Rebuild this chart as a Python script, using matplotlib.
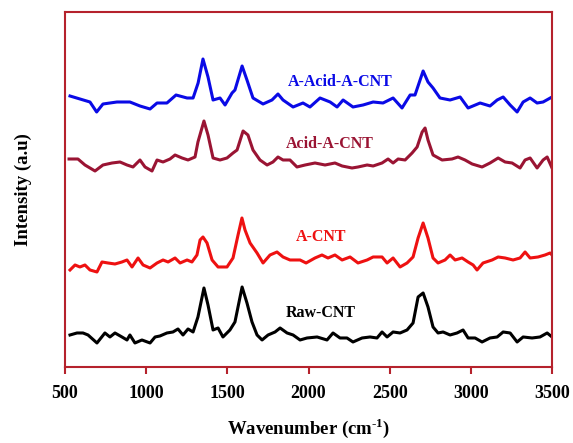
import matplotlib.pyplot as plt
import numpy as np

plt.rcParams['font.family'] = ['Liberation Serif', 'DejaVu Serif']
plt.rcParams['font.weight'] = 'bold'
plt.rcParams['mathtext.fontset'] = 'custom'
plt.rcParams['mathtext.rm'] = 'Liberation Serif:bold'
plt.rcParams['mathtext.bf'] = 'Liberation Serif:bold'

# Raman spectra (offset curves, arbitrary units)
w_blue = [531, 654, 695, 734, 820, 900, 962, 1024, 1067, 1128, 1184, 1252, 1289, 1320, 1350, 1381,
          1412, 1455, 1486, 1529, 1547, 1591, 1621, 1658, 1720, 1775, 1812, 1843, 1905, 1966, 2009,
          2071, 2133, 2176, 2213, 2274, 2336, 2398, 2459, 2521, 2576, 2626, 2656, 2706, 2736, 2767,
          2810, 2872, 2934, 2983, 3057, 3118, 3162, 3199, 3242, 3285, 3322, 3365, 3408, 3445, 3500]
i_blue = [271, 265, 255, 263, 265, 265, 261, 258, 264, 264, 272, 269, 269, 284, 308, 290,
          267, 269, 262, 274, 277, 301, 287, 269, 263, 267, 273, 267, 260, 264, 260,
          269, 265, 260, 267, 260, 262, 265, 264, 269, 259, 272, 272, 296, 285, 279,
          269, 267, 270, 259, 264, 261, 267, 270, 262, 255, 265, 269, 264, 265, 270]

w_acid = [525, 580, 623, 685, 734, 790, 839, 882, 919, 962, 993, 1036, 1067, 1104, 1147, 1178,
          1221, 1258, 1301, 1319, 1356, 1381, 1412, 1455, 1498, 1535, 1560, 1597, 1627, 1658,
          1701, 1745, 1781, 1812, 1843, 1886, 1929, 1979, 2040, 2102, 2163, 2207, 2268, 2305,
          2361, 2398, 2453, 2490, 2521, 2552, 2595, 2638, 2669, 2700, 2718, 2736, 2767, 2823,
          2884, 2921, 2964, 3008, 3069, 3118, 3168, 3211, 3254, 3303, 3334, 3365, 3408, 3445,
          3470, 3500]
i_acid = [208, 208, 202, 196, 202, 204, 205, 202, 200, 207, 200, 196, 207, 205, 208, 212,
          209, 207, 210, 225, 246, 232, 209, 207, 209, 214, 217, 236, 232, 217,
          207, 202, 205, 210, 207, 207, 200, 202, 204, 202, 204, 201, 199, 200,
          202, 201, 204, 208, 204, 208, 207, 214, 220, 235, 239, 227, 212, 207,
          208, 210, 207, 203, 200, 204, 209, 205, 204, 199, 207, 209, 199, 207,
          210, 199]

w_a = [531, 562, 592, 623, 654, 697, 728, 765, 808, 851, 882, 913, 950, 981, 1024, 1067, 1104,
       1135, 1178, 1209, 1252, 1282, 1313, 1332, 1350, 1375, 1406, 1443, 1498, 1535, 1566, 1590,
       1609, 1640, 1683, 1720, 1763, 1806, 1843, 1886, 1948, 1985, 2040, 2083, 2120, 2163, 2207,
       2256, 2305, 2361, 2398, 2453, 2484, 2521, 2564, 2607, 2644, 2675, 2706, 2736, 2767, 2798,
       2841, 2872, 2903, 2946, 2983, 3014, 3038, 3075, 3131, 3168, 3211, 3260, 3303, 3334, 3365,
       3414, 3457, 3488, 3500]
i_a = [97, 102, 100, 102, 97, 95, 105, 104, 103, 105, 107, 100, 109, 102, 99, 104, 107,
       105, 109, 104, 107, 105, 112, 127, 130, 124, 107, 100, 100, 109, 132, 149,
       137, 124, 114, 104, 112, 115, 110, 107, 107, 104, 109, 112, 109, 112, 107,
       110, 104, 107, 110, 110, 104, 109, 100, 104, 110, 129, 144, 129, 109, 104,
       107, 112, 107, 109, 105, 102, 97, 104, 107, 110, 109, 107, 109, 115, 109,
       110, 112, 114, 112]

w_raw = [531, 574, 611, 642, 697, 746, 777, 808, 851, 882, 900, 931, 974, 1024, 1055, 1085,
         1128, 1165, 1196, 1227, 1258, 1289, 1319, 1356, 1381, 1412, 1443, 1473, 1516, 1547,
         1591, 1621, 1652, 1683, 1714, 1751, 1794, 1825, 1868, 1905, 1948, 1991, 2053, 2114,
         2151, 2194, 2237, 2274, 2330, 2379, 2422, 2453, 2484, 2521, 2564, 2607, 2644, 2675,
         2706, 2736, 2767, 2798, 2829, 2872, 2915, 2952, 2983, 3026, 3069, 3118, 3162, 3199,
         3242, 3285, 3322, 3377, 3426, 3470, 3500]
i_raw = [32, 34, 34, 32, 24, 34, 30, 34, 30, 27, 32, 24, 27, 24, 30, 31,
         34, 35, 38, 32, 38, 35, 50, 79, 62, 37, 39, 30, 37, 45,
         80, 64, 45, 32, 27, 32, 35, 39, 34, 32, 27, 29, 30, 27,
         34, 29, 29, 25, 29, 30, 29, 35, 30, 35, 34, 37, 44, 70,
         74, 60, 40, 34, 35, 32, 34, 37, 29, 29, 25, 29, 30, 35,
         34, 25, 30, 29, 30, 34, 30]

series = [
    (w_blue, i_blue, '#0a0ae6', 'A-Acid-A-CNT', 2194, 285),
    (w_acid, i_acid, '#9a1433', 'Acid-A-CNT', 2133, 223),
    (w_a, i_a, '#ee1111', 'A-CNT', 2077, 130),
    (w_raw, i_raw, '#000000', 'Raw-CNT', 2078, 54),
]

frame = '#b5222c'

fig = plt.figure(figsize=(5.73, 4.43), dpi=100)
ax = fig.add_axes([0.1134, 0.1716, 0.85, 0.8013])

for w, inten, col, name, tx, ty in series:
    ax.plot(w, inten, color=col, lw=2.2, solid_joinstyle='round')
    ax.text(tx, ty, name, color=col, fontsize=11.5, fontweight='bold',
            ha='center', va='center')

ax.set_xlim(500, 3500)
ax.set_ylim(0, 355)
ax.set_xticks(np.arange(500, 3501, 500))
ax.set_yticks([])
for s in ax.spines.values():
    s.set_color(frame)
    s.set_linewidth(1.5)
ax.tick_params(axis='x', direction='out', length=5, width=1.5, color=frame,
               labelsize=13, pad=8)
for lab in ax.get_xticklabels():
    lab.set_fontweight('bold')

ax.set_xlabel('Wavenumber (cm$^{\\text{-1}}$)', fontsize=13.5, fontweight='bold', labelpad=10)
ax.set_ylabel('Intensity (a.u)', fontsize=13.5, fontweight='bold', labelpad=24)

fig.savefig('out.png', dpi=100)
